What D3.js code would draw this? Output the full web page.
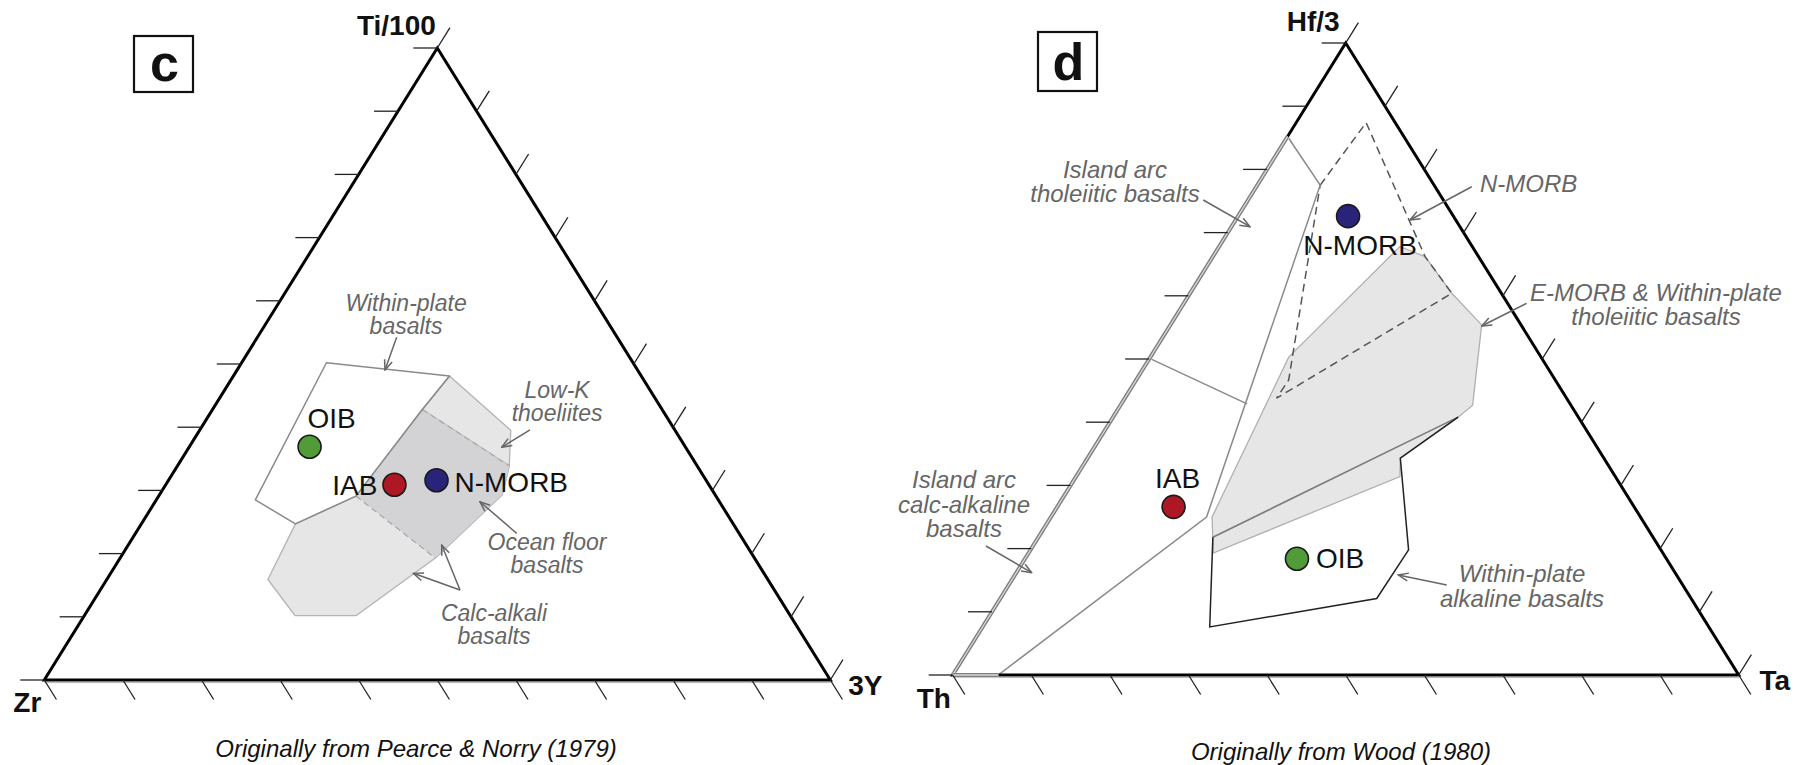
<!DOCTYPE html>
<html lang="en">
<head>
<meta charset="UTF-8">
<title>Ti-Zr-Y and Hf-Th-Ta discrimination diagrams</title>
<script src="https://cdn.jsdelivr.net/npm/d3@7"></script>
<style>
  html, body { margin: 0; padding: 0; background: #fff; }
  svg { display: block; font-family: "Liberation Sans", Arial, Helvetica, sans-serif; }
</style>
</head>
<body>
<svg id="chart" width="1796" height="765"></svg>
<script>
// ---------- panel c : Ti/100 - Zr - 3Y, values in %  [Ti, Zr, Y] ----------
const cCorners = ["Ti/100", "Zr", "3Y"];           // top, left, right
const cSamples = ["OIB", "IAB", "N-MORB"];
const cTi = [36.9, 30.9, 31.6];
const cZr = [47.8, 40.0, 34.3];
const cY  = [15.3, 29.1, 34.1];

const cWithinPlate = [[50.2, 39.0, 10.8], [48.1, 24.4, 27.5], [42.8, 30.5, 26.7],
                      [29.1, 45.8, 25.1], [24.7, 55.7, 19.6], [28.5, 58.9, 12.6]];
const cLowK = [[48.1, 24.4, 27.5], [39.5, 20.9, 39.6], [33.9, 23.9, 42.2], [29.3, 27.1, 43.6],
               [19.3, 40.6, 40.1], [29.1, 45.8, 25.1], [42.8, 30.5, 26.7]];
const cCalcAlkali = [[24.7, 55.7, 19.6], [15.9, 63.6, 20.5], [10.2, 63.0, 26.8], [10.2, 55.2, 34.6],
                     [19.3, 40.6, 40.1], [29.3, 27.1, 43.6], [33.9, 23.9, 42.2], [42.8, 30.5, 26.7],
                     [29.1, 45.8, 25.1]];
const cOceanFloor = [[42.8, 30.5, 26.7], [33.9, 23.9, 42.2], [29.3, 27.1, 43.6],
                     [19.3, 40.6, 40.1], [29.1, 45.8, 25.1]];

// ---------- panel d : Hf/3 - Th - Ta, values in %  [Hf, Th, Ta] ----------
const dCorners = ["Hf/3", "Th", "Ta"];
const dSamples = ["N-MORB", "IAB", "OIB"];
const dHf = [72.6, 26.6, 18.4];
const dTh = [13.4, 58.6, 47.0];
const dTa = [14.0, 14.8, 34.6];

const dArcBoundary = [[85.2, 14.8, 0], [77.5, 14.5, 8.0], [25.0, 55.2, 19.8], [0, 94.2, 5.8]];
const dArcDivider = [[50.1, 49.9, 0], [42.9, 41.1, 16.0]];
const dNMorb = [[77.5, 14.5, 8.0], [87.4, 3.7, 8.9], [66.2, 6.8, 27.0], [60.4, 6.3, 33.3],
                [43.8, 36.9, 19.3], [46.7, 33.9, 19.4]];
const dEMorb = [[67.8, 9.2, 23.0], [66.2, 6.8, 27.0], [60.4, 6.3, 33.3], [55.4, 5.0, 39.6],
                [42.7, 12.5, 44.8], [40.8, 15.3, 43.9], [34.3, 25.9, 39.8], [31.4, 27.4, 41.2],
                [19.3, 57.2, 23.5], [25.0, 54.5, 20.5], [50.3, 32.1, 17.6]];
const dWPAlkaline = [[21.8, 56.0, 22.2], [40.8, 15.3, 43.9], [34.3, 25.9, 39.8],
                     [19.8, 32.1, 48.1], [12.1, 40.0, 47.9], [7.6, 63.5, 28.9]];

const tickValues = [0, 10, 20, 30, 40, 50, 60, 70, 80, 90, 100];

// ---------- drawing ----------
const svg = d3.select("#chart");
const sampleColor = { "OIB": "#519b38", "IAB": "#ad1824", "N-MORB": "#2a237a" };
const annoGray = "#666";

svg.append("defs").append("marker")
  .attr("id", "arr")
  .attr("viewBox", "0 0 12 10")
  .attr("refX", 11).attr("refY", 5)
  .attr("markerWidth", 12).attr("markerHeight", 10)
  .attr("markerUnits", "userSpaceOnUse")
  .attr("orient", "auto")
  .append("path")
  .attr("d", "M1,1 L11,5 L1,9")
  .attr("fill", "none")
  .attr("stroke", annoGray)
  .attr("stroke-width", 1.5);

const lineGen = d3.line();
const unit = (a, b) => {
  const dx = b[0] - a[0], dy = b[1] - a[1], L = Math.hypot(dx, dy);
  return [dx / L, dy / L];
};

function drawPanel(P) {
  const xs = d3.scaleLinear().domain([0, 100]).range([P.x0, P.x0 + P.W]);
  const ys = d3.scaleLinear().domain([0, 100]).range([P.base, P.base - P.H]);
  const pr = (t, r) => [xs(r + t / 2), ys(t)];
  const pv = v => pr(v[0], v[2]);
  const g = svg.append("g");

  const apex = pr(100, 0), left = pr(0, 0), right = pr(0, 100);

  // fields
  P.fields(g, pv);

  // triangle frame
  g.append("path")
    .attr("d", lineGen([apex, left, right]) + "Z")
    .attr("fill", "none")
    .attr("stroke", "#000")
    .attr("stroke-width", 3)
    .attr("stroke-linejoin", "miter");
  g.append("line")
    .attr("x1", left[0]).attr("x2", right[0])
    .attr("y1", left[1] + 2.6).attr("y2", right[1] + 2.6)
    .attr("stroke", "#b4b4b4").attr("stroke-width", 1);

  if (P.overlay) P.overlay(g, pv);

  // ticks
  const upDir = unit(left, apex);
  const downDir = unit(apex, right);
  const tickG = g.append("g").attr("stroke", "#222").attr("stroke-width", 1.3);
  tickValues.forEach(k => {
    const a = pr(k, 0);
    tickG.append("line").attr("x1", a[0]).attr("y1", a[1]).attr("x2", a[0] - 24).attr("y2", a[1]);
    const b = pr(k, 100 - k);
    tickG.append("line").attr("x1", b[0]).attr("y1", b[1])
      .attr("x2", b[0] + upDir[0] * 24).attr("y2", b[1] + upDir[1] * 24);
    const c = pr(0, k);
    tickG.append("line").attr("x1", c[0]).attr("y1", c[1])
      .attr("x2", c[0] + downDir[0] * 23).attr("y2", c[1] + downDir[1] * 23);
  });

  // annotations
  P.notes.forEach(n => {
    (n.arrows || []).forEach(a => {
      const p1 = pr(a[0][0], a[0][1]), p2 = pr(a[1][0], a[1][1]);
      g.append("line")
        .attr("x1", p1[0]).attr("y1", p1[1]).attr("x2", p2[0]).attr("y2", p2[1])
        .attr("stroke", annoGray).attr("stroke-width", 1.5)
        .attr("marker-end", "url(#arr)");
    });
    const at = pr(n.at[0], n.at[1]);
    const lh = n.lh || 24;
    const t = g.append("text")
      .attr("x", at[0]).attr("y", at[1] + (n.dy0 || 0))
      .attr("text-anchor", n.anchor || "middle")
      .attr("font-size", n.size || 24)
      .attr("font-style", "italic")
      .attr("fill", annoGray);
    n.lines.forEach((s, i) => {
      t.append("tspan").attr("x", at[0]).attr("dy", i === 0 ? 0 : lh).text(s);
    });
  });

  // samples
  const pts = P.samples.map((s, i) => ({ name: s, p: pr(P.top[i], P.right[i]) }));
  g.selectAll("circle.smp").data(pts).enter().append("circle")
    .attr("class", "smp")
    .attr("cx", d => d.p[0]).attr("cy", d => d.p[1])
    .attr("r", 11.5)
    .attr("fill", d => sampleColor[d.name])
    .attr("stroke", "#1a1a1a").attr("stroke-width", 1.6);
  g.selectAll("text.smp").data(pts).enter().append("text")
    .attr("class", "smp")
    .attr("x", d => d.p[0] + P.labelPos[d.name].dx)
    .attr("y", d => d.p[1] + P.labelPos[d.name].dy)
    .attr("text-anchor", d => P.labelPos[d.name].anchor)
    .attr("font-size", 28)
    .attr("fill", "#111")
    .text(d => d.name);

  // corner labels
  const cornerPts = [apex, left, right];
  P.corners.forEach((name, i) => {
    const o = P.cornerPos[i];
    g.append("text")
      .attr("x", cornerPts[i][0] + o.dx).attr("y", cornerPts[i][1] + o.dy)
      .attr("text-anchor", o.anchor)
      .attr("font-size", 28).attr("font-weight", "bold")
      .attr("fill", "#111")
      .text(name);
  });

  // panel letter box
  g.append("rect")
    .attr("x", P.box.x).attr("y", P.box.y).attr("width", P.box.w).attr("height", P.box.h)
    .attr("fill", "none").attr("stroke", "#111").attr("stroke-width", 2.2);
  g.append("text")
    .attr("x", P.box.x + P.box.w / 2 + 1).attr("y", P.box.y + P.box.h - 11)
    .attr("text-anchor", "middle")
    .attr("font-size", 52).attr("font-weight", "bold").attr("fill", "#111")
    .text(P.letter);

  // caption
  g.append("text")
    .attr("x", P.caption.x).attr("y", P.caption.y)
    .attr("text-anchor", "middle")
    .attr("font-size", 24).attr("font-style", "italic").attr("fill", "#111")
    .text(P.caption.text);
}

// panel c
drawPanel({
  x0: 44.3, base: 680, W: 786, H: 632,
  corners: cCorners,
  cornerPos: [{ dx: -1.5, dy: -12.7, anchor: "end" }, { dx: -31, dy: 31.7, anchor: "start" }, { dx: 18, dy: 15, anchor: "start" }],
  samples: cSamples, top: cTi, right: cY,
  labelPos: {
    "OIB": { dx: -2, dy: -18.7, anchor: "start" },
    "IAB": { dx: -17, dy: 10, anchor: "end" },
    "N-MORB": { dx: 18, dy: 11.7, anchor: "start" }
  },
  box: { x: 134, y: 36, w: 59, h: 56 }, letter: "c",
  caption: { x: 416, y: 757, text: "Originally from Pearce & Norry (1979)" },
  fields: (g, pv) => {
    const poly = (pts, fill, stroke, sw) => g.append("path")
      .attr("d", lineGen(pts.map(pv)) + "Z")
      .attr("fill", fill).attr("stroke", stroke).attr("stroke-width", sw)
      .attr("stroke-linejoin", "round");
    poly(cLowK, "#e6e6e6", "#b3b3b3", 1.3);
    poly(cCalcAlkali, "#e6e6e6", "#b3b3b3", 1.3);
    poly(cOceanFloor, "#d3d3d5", "none", 0);
    [[cOceanFloor[0], cOceanFloor[1]], [cOceanFloor[4], cOceanFloor[3]]].forEach(seg => {
      g.append("path").attr("d", lineGen(seg.map(pv)))
        .attr("fill", "none").attr("stroke", "#a9a9a9").attr("stroke-width", 1.3)
        .attr("stroke-dasharray", "6,4");
    });
    poly(cWithinPlate, "none", "#8a8a8a", 1.5);
  },
  notes: [
    { lines: ["Within-plate", "basalts"], at: [58.07, 16.99], size: 23, lh: 23, dy0: -2, arrows: [[[54.22, 17.72], [49.05, 18.82]]] },
    { lines: ["Low-K", "thoeliites"], at: [44.15, 43.16], size: 23, lh: 23, dy0: -3, arrows: [[[39.56, 42.01], [36.82, 39.78]]] },
    { lines: ["Ocean floor", "basalts"], at: [20.25, 53.83], size: 23, lh: 23, dy0: -2, arrows: [[[23.21, 48.49], [28.21, 41.32]]] },
    { lines: ["Calc-alkali", "basalts"], at: [9.22, 52.6], size: 23, lh: 23, dy0: -1,
      arrows: [[[14.24, 45.77], [21.36, 39.88]], [[14.24, 45.77], [16.88, 38.51]]] }
  ]
});

// panel d
drawPanel({
  x0: 952.7, base: 675, W: 786, H: 632,
  corners: dCorners,
  cornerPos: [{ dx: -6, dy: -11.6, anchor: "end" }, { dx: -36, dy: 33, anchor: "start" }, { dx: 20.7, dy: 15, anchor: "start" }],
  samples: dSamples, top: dHf, right: dTa,
  labelPos: {
    "N-MORB": { dx: 12, dy: 38.7, anchor: "middle" },
    "IAB": { dx: 4, dy: -18.4, anchor: "middle" },
    "OIB": { dx: 19, dy: 9.3, anchor: "start" }
  },
  box: { x: 1038, y: 32, w: 59, h: 59 }, letter: "d",
  caption: { x: 1341, y: 760, text: "Originally from Wood (1980)" },
  fields: (g, pv) => {
    g.append("path").attr("d", lineGen(dEMorb.map(pv)) + "Z")
      .attr("fill", "#e6e6e6").attr("stroke", "#b0b0b0").attr("stroke-width", 1.3);
    g.append("path").attr("d", lineGen(dNMorb.map(pv)) + "Z")
      .attr("fill", "none").attr("stroke", "#555").attr("stroke-width", 1.5)
      .attr("stroke-dasharray", "8,5");
    g.append("path").attr("d", lineGen([dWPAlkaline[0], dWPAlkaline[1]].map(pv)))
      .attr("fill", "none").attr("stroke", "#7a7a7a").attr("stroke-width", 1.6);
    g.append("path").attr("d", lineGen([1, 2, 3, 4, 5, 0].map(i => pv(dWPAlkaline[i]))))
      .attr("fill", "none").attr("stroke", "#222").attr("stroke-width", 1.5);
    g.append("path").attr("d", lineGen(dArcBoundary.map(pv)))
      .attr("fill", "none").attr("stroke", "#8a8a8a").attr("stroke-width", 1.5);
    g.append("path").attr("d", lineGen(dArcDivider.map(pv)))
      .attr("fill", "none").attr("stroke", "#8a8a8a").attr("stroke-width", 1.5);
  },
  overlay: (g, pv) => {
    const segs = [[dArcBoundary[0], [0, 100, 0]], [[0, 100, 0], dArcBoundary[3]]];
    segs.forEach(s => {
      const d = lineGen(s.map(pv));
      g.append("path").attr("d", d).attr("stroke", "#fff").attr("stroke-width", 4.5).attr("fill", "none");
      g.append("path").attr("d", d).attr("stroke", "#7d7d7d").attr("stroke-width", 4).attr("fill", "none");
      g.append("path").attr("d", d).attr("stroke", "#d8d8d8").attr("stroke-width", 1.3).attr("fill", "none");
    });
  },
  notes: [
    { lines: ["Island arc", "tholeiitic basalts"], at: [78.59, -18.65], lh: 24, dy0: -0.3, arrows: [[[75.16, -5.7], [70.93, 2.35]]] },
    { lines: ["N-MORB"], at: [76.47, 28.85], anchor: "start", arrows: [[[77.26, 27.4], [71.99, 22.18]]] },
    { lines: ["E-MORB & Within-plate", "tholeiitic basalts"], at: [59.07, 59.95], lh: 24, dy0: -0.3, arrows: [[[58.81, 43.62], [55.22, 39.69]]] },
    { lines: ["Island arc", "calc-alkaline", "basalts"], at: [29.54, -13.33], lh: 24.2, arrows: [[[20.41, -5.97], [16.19, 1.96]]] },
    { lines: ["Within-plate", "alkaline basalts"], at: [14.76, 65.05], lh: 25, arrows: [[[14.24, 55.73], [15.82, 48.78]]] }
  ]
});
</script>
</body>
</html>
